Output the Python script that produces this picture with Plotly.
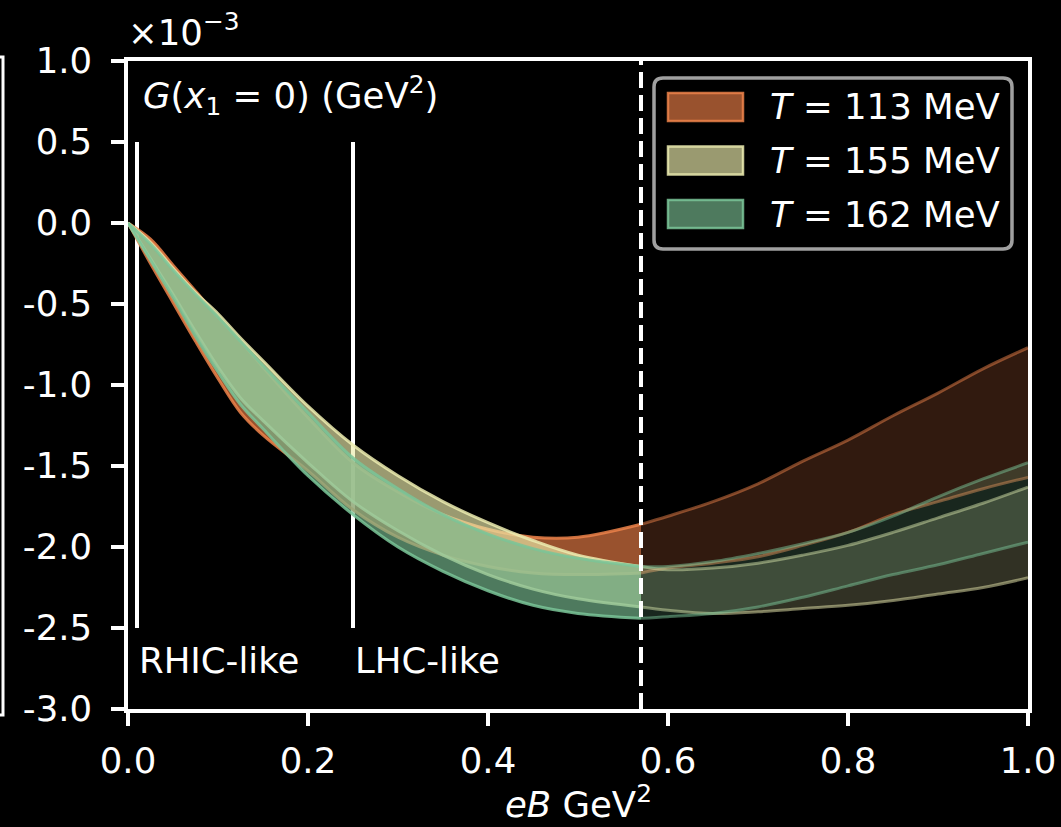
import plotly.graph_objects as go

# Magnetic field grid (GeV^2) and the cut beyond which results are extrapolated
eB = [0.0, 0.025, 0.05, 0.075, 0.1, 0.125, 0.15, 0.2, 0.25, 0.3, 0.35, 0.4, 0.45, 0.5, 0.57,
      0.6, 0.65, 0.7, 0.75, 0.8, 0.85, 0.9, 0.95, 1.0]
EB_CUT = 0.57

# G(x1 = 0) bands, in units of 1e-3 GeV^2
g113_hi = [0, -0.10, -0.26, -0.42, -0.58, -0.73, -0.89, -1.20, -1.48, -1.66, -1.80, -1.89, -1.94, -1.94, -1.86,
           -1.81, -1.72, -1.61, -1.47, -1.34, -1.19, -1.05, -0.90, -0.77]
g113_lo = [0, -0.25, -0.49, -0.73, -0.96, -1.17, -1.31, -1.53, -1.77, -1.94, -2.05, -2.12, -2.16, -2.17, -2.16,
           -2.13, -2.10, -2.06, -1.99, -1.91, -1.80, -1.72, -1.64, -1.57]
g155_hi = [0, -0.12, -0.28, -0.43, -0.56, -0.71, -0.85, -1.13, -1.37, -1.56, -1.72, -1.85, -1.96, -2.05, -2.12,
           -2.14, -2.13, -2.10, -2.05, -1.99, -1.91, -1.82, -1.73, -1.63]
g155_lo = [0, -0.22, -0.44, -0.67, -0.89, -1.08, -1.22, -1.48, -1.72, -1.90, -2.05, -2.17, -2.26, -2.32, -2.37,
           -2.39, -2.41, -2.40, -2.38, -2.36, -2.33, -2.29, -2.25, -2.19]
g162_hi = [0, -0.13, -0.29, -0.44, -0.58, -0.73, -0.88, -1.17, -1.45, -1.64, -1.80, -1.92, -2.01, -2.07, -2.12,
           -2.12, -2.09, -2.04, -1.98, -1.91, -1.81, -1.69, -1.58, -1.48]
g162_lo = [0, -0.23, -0.46, -0.70, -0.92, -1.12, -1.27, -1.56, -1.80, -2.00, -2.15, -2.27, -2.36, -2.41, -2.44,
           -2.43, -2.41, -2.37, -2.31, -2.24, -2.17, -2.11, -2.04, -1.97]

labels = ["<i>T</i> = 113 MeV", "<i>T</i> = 155 MeV", "<i>T</i> = 162 MeV"]
bases = [(232, 125, 70), (233, 233, 170), (118, 185, 142)]
edges = [(236, 130, 74), (236, 236, 176), (122, 196, 152)]

y_ticks = [1.0, 0.5, 0.0, -0.5, -1.0, -1.5, -2.0, -2.5, -3.0]
y_ticktext = ["1.0", "0.5", "0.0", "-0.5", "-1.0", "-1.5", "-2.0", "-2.5", "-3.0"]
x_ticks = [0.0, 0.2, 0.4, 0.6, 0.8, 1.0]
x_ticktext = ["0.0", "0.2", "0.4", "0.6", "0.8", "1.0"]

FONT = "DejaVu Sans"
FS = 35.5
ALPHA_IN, ALPHA_OUT = 0.66, 0.21
EDGE_IN, EDGE_OUT = 0.85, 0.5


def rgba(c, a):
    return f"rgba({c[0]},{c[1]},{c[2]},{a})"


fig = go.Figure()

icut = eB.index(EB_CUT)
bands = [(g113_hi, g113_lo), (g155_hi, g155_lo), (g162_hi, g162_lo)]
for (hi, lo), base, edge in zip(bands, bases, edges):
    for sl, fa, ea in [(slice(0, icut + 1), ALPHA_IN, EDGE_IN),
                       (slice(icut, None), ALPHA_OUT, EDGE_OUT)]:
        xs = eB[sl]
        fig.add_trace(go.Scatter(
            x=xs, y=lo[sl], mode="lines", line=dict(color=rgba(edge, ea), width=3, shape="spline"),
            showlegend=False, hoverinfo="skip"))
        fig.add_trace(go.Scatter(
            x=xs, y=hi[sl], mode="lines", fill="tonexty", fillcolor=rgba(base, fa),
            line=dict(color=rgba(edge, ea), width=3, shape="spline"),
            showlegend=False, hoverinfo="skip"))

shapes = []
# Collision-energy markers
for xv in (0.01, 0.25):
    shapes.append(dict(type="line", xref="x", yref="y", x0=xv, x1=xv, y0=0.5, y1=-2.5,
                       line=dict(color="white", width=4), layer="below"))
# Extrapolation boundary
shapes.append(dict(type="line", xref="x", yref="y", x0=EB_CUT, x1=EB_CUT, y0=-3.0, y1=1.0,
                   line=dict(color="white", width=4, dash="16px,7px"), layer="above"))

# Frame edge of the neighbouring panel
L, T, W, H = 128, 61, 900, 648


def px(p):
    return (p - L) / W


def py(p):
    return (T + H - p) / H


shapes.append(dict(type="rect", xref="paper", yref="paper", x0=px(-40), x1=px(3),
                   y0=py(715), y1=py(57), line=dict(color="white", width=3), layer="above"))

# Legend box with rounded corners
x0, x1, y0, y1, r = 654, 1012, 78, 249, 9
path = (f"M {px(x0 + r)} {py(y0)} L {px(x1 - r)} {py(y0)} Q {px(x1)} {py(y0)} {px(x1)} {py(y0 + r)} "
        f"L {px(x1)} {py(y1 - r)} Q {px(x1)} {py(y1)} {px(x1 - r)} {py(y1)} "
        f"L {px(x0 + r)} {py(y1)} Q {px(x0)} {py(y1)} {px(x0)} {py(y1 - r)} "
        f"L {px(x0)} {py(y0 + r)} Q {px(x0)} {py(y0)} {px(x0 + r)} {py(y0)} Z")
shapes.append(dict(type="path", xref="paper", yref="paper", path=path,
                   fillcolor="black", line=dict(color="rgb(160,160,160)", width=3.5), layer="above"))

annotations = []
for i, (lab, base, edge) in enumerate(zip(labels, bases, edges)):
    cy = 107 + i * 53.5
    shapes.append(dict(type="rect", xref="paper", yref="paper", x0=px(668), x1=px(743),
                       y0=py(cy + 14), y1=py(cy - 14), fillcolor=rgba(base, ALPHA_IN),
                       line=dict(color=rgba(edge, EDGE_IN), width=2.5), layer="above"))
    annotations.append(dict(xref="paper", yref="paper", x=px(768), y=py(cy), text=lab,
                            showarrow=False, xanchor="left", yanchor="middle",
                            font=dict(family=FONT, size=FS, color="white")))

annotations += [
    dict(xref="paper", yref="paper", x=px(126), y=py(30), text="×10<sup>−3</sup>",
         showarrow=False, xanchor="left", yanchor="middle",
         font=dict(family=FONT, size=FS, color="white")),
    dict(xref="paper", yref="paper", x=px(141), y=py(95),
         text="<i>G</i>(<i>x</i><sub>1</sub> = 0) (GeV<sup>2</sup>)",
         showarrow=False, xanchor="left", yanchor="middle",
         font=dict(family=FONT, size=FS, color="white")),
    dict(xref="x", yref="y", x=0.01, y=-2.7, text="RHIC-like", showarrow=False,
         xanchor="left", yanchor="middle", font=dict(family=FONT, size=FS, color="white")),
    dict(xref="x", yref="y", x=0.25, y=-2.7, text="LHC-like", showarrow=False,
         xanchor="left", yanchor="middle", font=dict(family=FONT, size=FS, color="white")),
    dict(xref="paper", yref="paper", x=0.5, y=py(802), text="<i>eB</i> GeV<sup>2</sup>",
         showarrow=False, xanchor="center", yanchor="middle",
         font=dict(family=FONT, size=FS, color="white")),
]

axis_common = dict(showline=True, linecolor="white", linewidth=3.5, mirror=True,
                   ticks="outside", ticklen=13, tickwidth=3.5, tickcolor="white",
                   showgrid=False, zeroline=False, automargin=False,
                   tickfont=dict(family=FONT, size=FS, color="white"))

fig.update_layout(
    width=1061, height=827,
    margin=dict(l=L, r=1061 - L - W, t=T, b=827 - T - H, autoexpand=False),
    paper_bgcolor="black", plot_bgcolor="black",
    showlegend=False,
    shapes=shapes, annotations=annotations,
    xaxis=dict(range=[0, 1], tickvals=x_ticks, ticktext=x_ticktext, ticklabelstandoff=5, **axis_common),
    yaxis=dict(range=[-3, 1], tickvals=y_ticks, ticktext=y_ticktext, ticklabelstandoff=12, **axis_common),
)

fig.write_html("out.html")
